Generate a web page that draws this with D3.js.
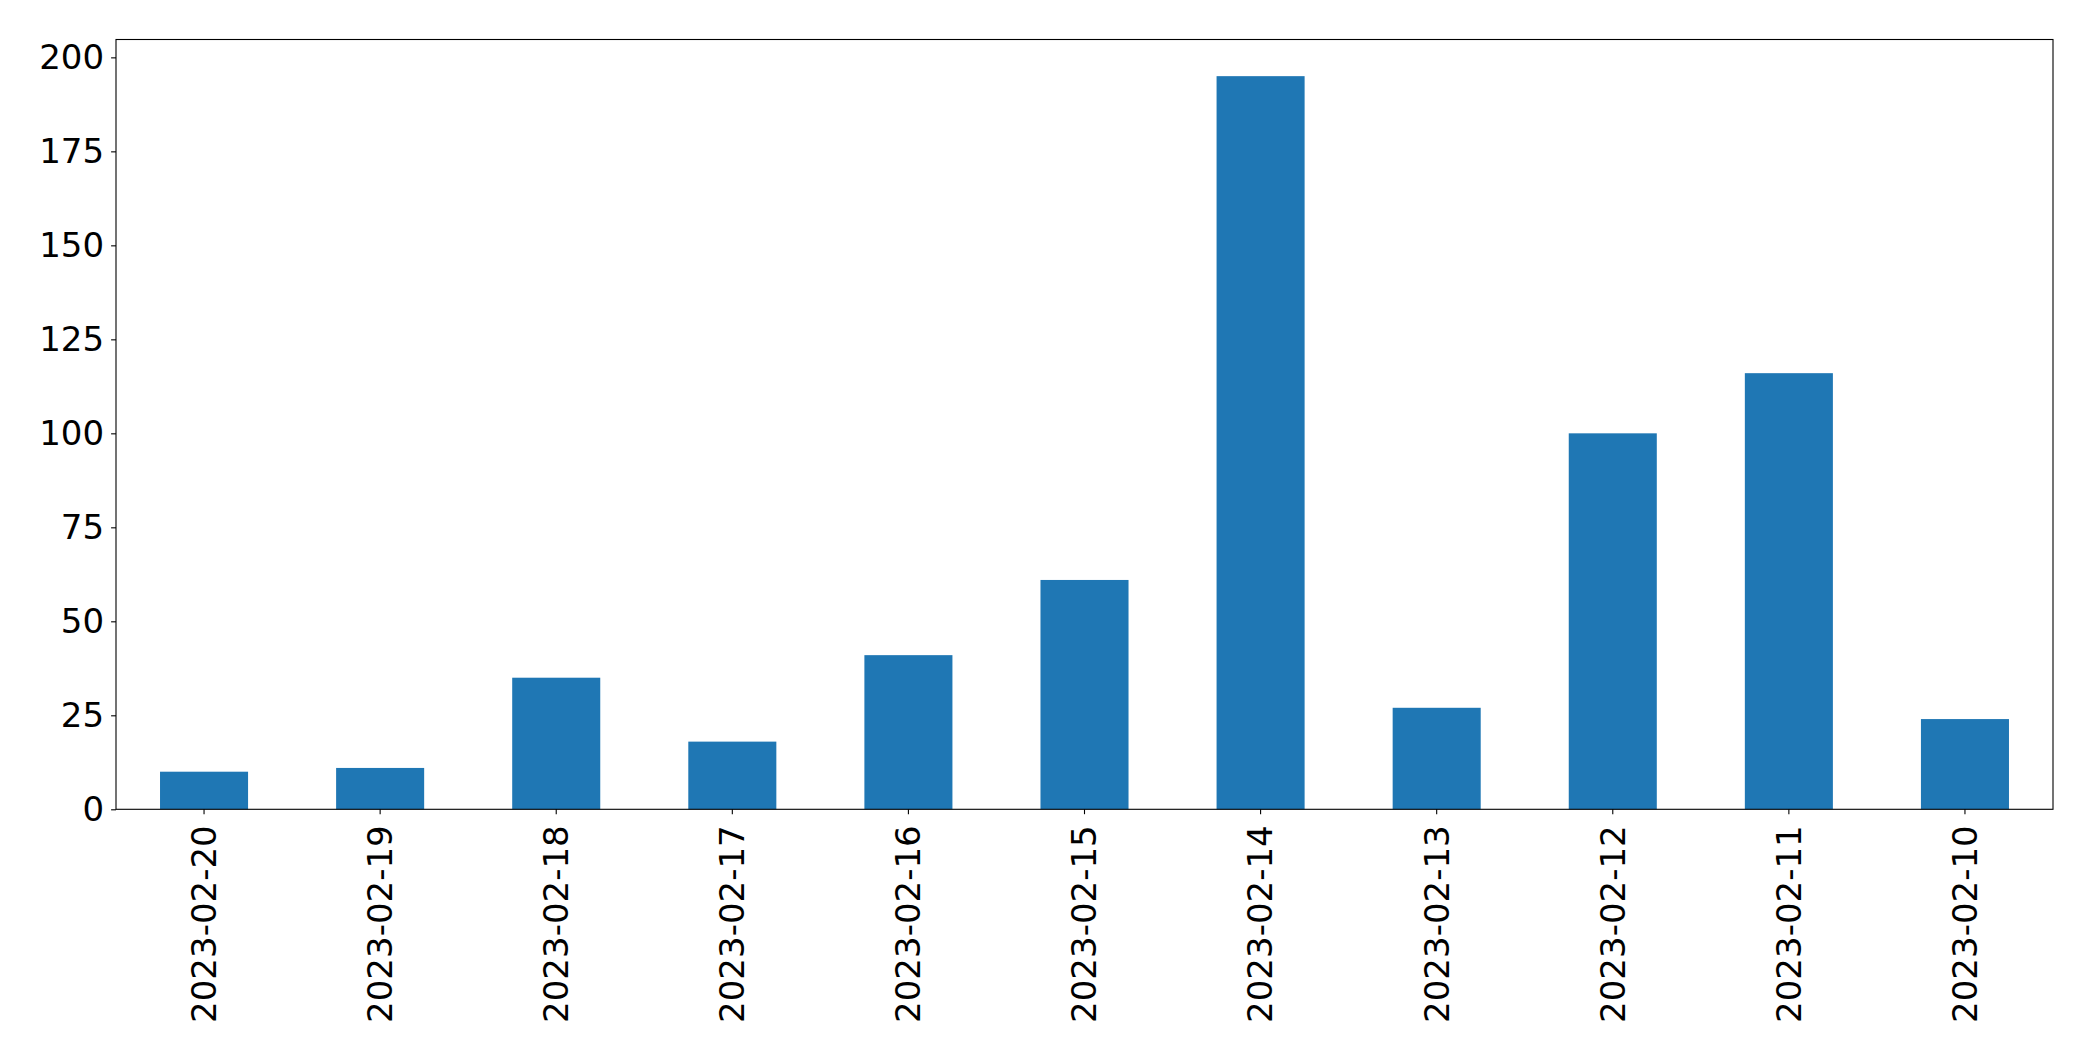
<!DOCTYPE html>
<html>
<head>
<meta charset="utf-8">
<script src="https://cdn.jsdelivr.net/npm/d3@7"></script>
<style>
  html, body { margin: 0; padding: 0; background: #fff; }
  svg { display: block; }
  text { font-family: "DejaVu Sans", sans-serif; }
</style>
</head>
<body>
<script>
const categories = ["2023-02-20","2023-02-19","2023-02-18","2023-02-17","2023-02-16","2023-02-15","2023-02-14","2023-02-13","2023-02-12","2023-02-11","2023-02-10"];
const values = [10, 11, 35, 18, 41, 61, 195, 27, 100, 116, 24];
const yTicks = [0, 25, 50, 75, 100, 125, 150, 175, 200];

const W = 2093, H = 1061;
const margin = { left: 116, right: 2093 - 2053, top: 39.5, bottom: 1061 - 809.3 };
const innerW = W - margin.left - margin.right;
const innerH = H - margin.top - margin.bottom;

const svg = d3.select("body").append("svg").attr("width", W).attr("height", H);
const g = svg.append("g").attr("transform", `translate(${margin.left},${margin.top})`);

const x = d3.scaleBand().domain(categories).range([0, innerW]).paddingInner(0.5).paddingOuter(0.25);
const y = d3.scaleLinear().domain([0, d3.max(values) * 1.05]).range([innerH, 0]);

g.selectAll("rect.bar").data(values).enter().append("rect")
  .attr("class", "bar")
  .attr("x", (d, i) => x(categories[i]))
  .attr("width", x.bandwidth())
  .attr("y", d => y(d))
  .attr("height", d => innerH - y(d))
  .attr("fill", "#1f77b4");

const fs = 34;
const tickLen = 4.9;

const yAxis = g.append("g").call(d3.axisLeft(y).tickValues(yTicks).tickSize(tickLen).tickPadding(7));
const xAxis = g.append("g").attr("transform", `translate(0,${innerH})`)
  .call(d3.axisBottom(x).tickSize(tickLen).tickPadding(0));

[yAxis, xAxis].forEach(a => {
  a.select(".domain").remove();
  a.selectAll(".tick line").attr("stroke", "#000").attr("stroke-width", 1.1);
  a.selectAll(".tick text").attr("fill", "#000").style("font-size", fs + "px").style("font-family", "'DejaVu Sans', sans-serif");
});

xAxis.selectAll(".tick text")
  .attr("transform", `translate(0,16) rotate(-90)`)
  .attr("text-anchor", "end")
  .attr("x", 0).attr("y", 0)
  .attr("dy", "0.35em");

g.append("rect").attr("x", 0).attr("y", 0).attr("width", innerW).attr("height", innerH)
  .attr("fill", "none").attr("stroke", "#000").attr("stroke-width", 1.1);
</script>
</body>
</html>
